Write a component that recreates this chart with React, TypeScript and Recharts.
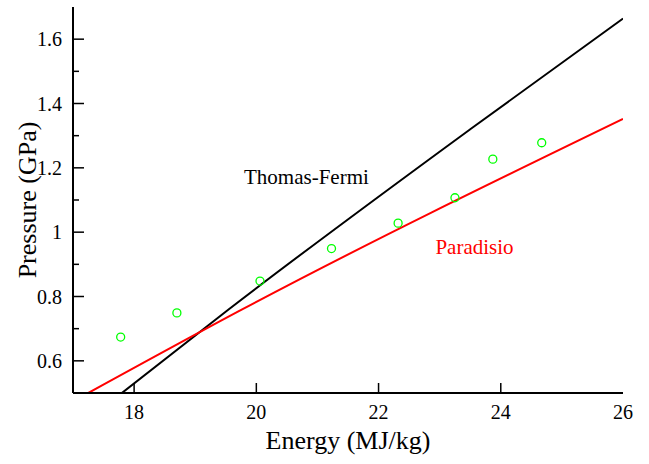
import React from 'react';
import { ComposedChart, Line, Scatter, XAxis, YAxis, ReferenceDot } from 'recharts';

// measured points (green circles)
const energy = [17.78, 18.7, 20.06, 21.23, 22.32, 23.25, 23.87, 24.67];
const pressure = [0.674, 0.749, 0.848, 0.949, 1.028, 1.107, 1.227, 1.278];

// Thomas-Fermi curve (black)
const tfEnergy = [17.8, 19.54, 23.5, 26];
const tfPressure = [0.5, 0.759, 1.32, 1.664];

// Paradisio curve (red)
const parEnergy = [17.25, 19.76, 26];
const parPressure = [0.5, 0.759, 1.352];

const xTicks = [18, 20, 22, 24, 26];
const xTopTicks = [18, 20, 22, 24];
const yTicks = [0.6, 0.7, 0.8, 0.9, 1, 1.1, 1.2, 1.3, 1.4, 1.5, 1.6];
const yMajor = [0.6, 0.8, 1, 1.2, 1.4, 1.6];

const FONT = '"Liberation Serif", "Times New Roman", serif';

const points = energy.map((e, i) => ({ e, p: pressure[i] }));
const tfLine = tfEnergy.map((e, i) => ({ e, p: tfPressure[i] }));
const parLine = parEnergy.map((e, i) => ({ e, p: parPressure[i] }));

const BottomTick = (props: any) => {
  const { x, y, payload } = props;
  const v = payload.value;
  return (
    <g>
      {v < 26 && <line x1={x} x2={x} y1={y} y2={y - 10} stroke="#000" strokeWidth={1.5} />}
      <text x={x} y={y + 26} textAnchor="middle" fontSize={20} fontFamily={FONT} fill="#000">{v}</text>
    </g>
  );
};

const TopTick = (props: any) => {
  const { x, y } = props;
  return <line x1={x} x2={x} y1={y} y2={y + 10} stroke="#000" strokeWidth={1.5} />;
};

const LeftTick = (props: any) => {
  const { x, y, payload } = props;
  const major = yMajor.includes(payload.value);
  return (
    <g>
      <line x1={x} x2={x + (major ? 11 : 6)} y1={y} y2={y} stroke="#000" strokeWidth={1.5} />
      {major && (
        <text x={x - 11} y={y + 7} textAnchor="end" fontSize={20} fontFamily={FONT} fill="#000">{payload.value}</text>
      )}
    </g>
  );
};

const RightTick = (props: any) => {
  const { x, y, payload } = props;
  const major = yMajor.includes(payload.value);
  return <line x1={x} x2={x - (major ? 11 : 6)} y1={y} y2={y} stroke="#000" strokeWidth={1.5} />;
};

const YTitle = (props: any) => {
  const vb = props.viewBox;
  const cx = vb.x + 36;
  const cy = vb.y + vb.height / 2;
  return (
    <text x={cx} y={cy} transform={`rotate(-90 ${cx} ${cy})`} textAnchor="middle" fontSize={26} fontFamily={FONT} fill="#000">
      Pressure (GPa)
    </text>
  );
};

const Circle = (props: any) => (
  <circle cx={props.cx} cy={props.cy} r={4} fill="none" stroke="#00ff00" strokeWidth={1.3} />
);

const frame = { stroke: '#000', strokeWidth: 2 };

export default function App() {
  return (
    <div style={{ position: 'absolute', left: 0, top: 0, width: 649, height: 464, background: '#fff' }}>
      <ComposedChart width={649} height={464} margin={{ top: 7, right: 26, bottom: 0, left: 0 }}>
        <XAxis
          dataKey="e"
          type="number"
          domain={[17, 26]}
          ticks={xTicks}
          interval={0}
          allowDataOverflow
          height={71}
          tickSize={0}
          tickMargin={0}
          tickLine={false}
          axisLine={frame}
          tick={(p: any) => <BottomTick {...p} />}
          label={{ value: 'Energy (MJ/kg)', position: 'insideBottom', offset: 15, fontSize: 26, fontFamily: FONT, fill: '#000' }}
        />
        <XAxis
          xAxisId="top"
          orientation="top"
          dataKey="e"
          type="number"
          domain={[17, 26]}
          ticks={xTopTicks}
          interval={0}
          height={0}
          tickSize={0}
          tickMargin={0}
          tickLine={false}
          axisLine={frame}
          tick={(p: any) => <TopTick {...p} />}
        />
        <YAxis
          type="number"
          domain={[0.5, 1.7]}
          ticks={yTicks}
          interval={0}
          allowDataOverflow
          width={73}
          tickSize={0}
          tickMargin={0}
          tickLine={false}
          axisLine={frame}
          tick={(p: any) => <LeftTick {...p} />}
          label={{ content: (p: any) => <YTitle {...p} /> }}
        />
        <YAxis
          yAxisId="right"
          orientation="right"
          type="number"
          domain={[0.5, 1.7]}
          ticks={yTicks}
          interval={0}
          width={0}
          tickSize={0}
          tickMargin={0}
          tickLine={false}
          axisLine={frame}
          tick={(p: any) => <RightTick {...p} />}
        />
        <Line data={tfLine} dataKey="p" type="monotone" stroke="#000" strokeWidth={2} dot={false} isAnimationActive={false} />
        <Line data={parLine} dataKey="p" type="monotone" stroke="#ff0000" strokeWidth={2} dot={false} isAnimationActive={false} />
        <Scatter data={points} dataKey="p" shape={(p: any) => <Circle {...p} />} isAnimationActive={false} />
        <ReferenceDot x={20.82} y={1.173} r={0} fill="none" stroke="none"
          label={{ value: 'Thomas-Fermi', position: 'center', fontSize: 21, fontFamily: FONT, fill: '#000' }} />
        <ReferenceDot x={23.57} y={0.955} r={0} fill="none" stroke="none"
          label={{ value: 'Paradisio', position: 'center', fontSize: 21, fontFamily: FONT, fill: '#ff0000' }} />
      </ComposedChart>
    </div>
  );
}
